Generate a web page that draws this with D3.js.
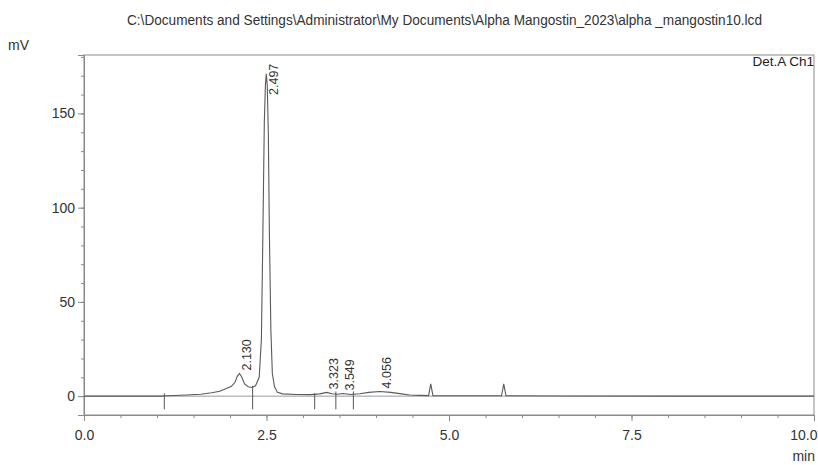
<!DOCTYPE html>
<html>
<head>
<meta charset="utf-8">
<script src="https://cdn.jsdelivr.net/npm/d3@7"></script>
<style>
  body { margin: 0; background: #fff; }
  text { font-family: "Liberation Sans", Arial, sans-serif; fill: #333; }
</style>
</head>
<body>
<div class="chart"></div>
<script>
const w = 818;
const h = 465;

const title = "C:\\Documents and Settings\\Administrator\\My Documents\\Alpha Mangostin_2023\\alpha _mangostin10.lcd";

// trace: time (min) and signal (mV)
const times = [0, 1.05, 1.15, 1.4, 1.6, 1.75, 1.86, 1.95, 2.02, 2.07, 2.1, 2.13, 2.16, 2.2, 2.25, 2.3, 2.35, 2.4, 2.43, 2.45, 2.47, 2.485, 2.497, 2.51, 2.525, 2.54, 2.56, 2.58, 2.61, 2.65, 2.72, 2.9, 3.1, 3.23, 3.323, 3.4, 3.47, 3.549, 3.65, 3.78, 3.9, 4.056, 4.2, 4.35, 4.46, 4.6, 4.72, 4.75, 4.78, 5.2, 5.72, 5.75, 5.78, 6.5, 8, 10];
const signal = [0, 0, 0.2, 0.6, 1.0, 1.8, 2.6, 4.0, 5.2, 7.5, 10.5, 12, 10.2, 6.5, 5.0, 4.6, 5.5, 10, 30, 85, 145, 165, 171, 165, 140, 85, 35, 12, 5, 2, 1.2, 0.9, 0.8, 1.2, 2.0, 1.3, 1.0, 1.4, 0.9, 1.3, 2.0, 2.5, 2.0, 1.2, 0.6, 0.4, 0.3, 6.5, 0.3, 0.2, 0.2, 6.5, 0.2, 0.1, 0, 0];

// labelled peaks
const peakTimes = [2.130, 2.497, 3.323, 3.549, 4.056];
const peakHeights = [12, 171, 2.0, 1.4, 2.5];

// integration start/end marks: time, top (mV)
const markTimes = [1.10, 2.31, 3.16, 3.45, 3.69];
const markTops = [1.5, 5.5, 1.5, 2.5, 2.5];

const xTicks = [0, 2.5, 5, 7.5, 10];
const yTicks = [0, 50, 100, 150];

const svg = d3.select(".chart")
.append("svg")
.attr("width", w)
.attr("height", h);

const x = d3.scaleLinear().domain([0, 10]).range([84, 814]);
const y = d3.scaleLinear().domain([-10, 181]).range([415, 55]);

// title
svg.append("text")
  .attr("x", 127)
  .attr("y", 25)
  .attr("font-size", 14)
  .attr("textLength", 635)
  .attr("lengthAdjust", "spacingAndGlyphs")
  .text(title);

svg.append("text").attr("x", 8).attr("y", 50).attr("font-size", 14).text("mV");
svg.append("text").attr("x", 815).attr("y", 461).attr("font-size", 14)
  .attr("text-anchor", "end").text("min");

// frame
svg.append("rect")
  .attr("x", x(0)).attr("y", y(181))
  .attr("width", x(10) - x(0)).attr("height", y(-10) - y(181))
  .attr("fill", "none").attr("stroke", "#8a8a8a");

svg.append("text")
  .attr("x", 814).attr("y", 66).attr("font-size", 13.5)
  .attr("text-anchor", "end").style("fill", "#222").text("Det.A Ch1");

// axes
const xAxis = svg.append("g")
  .attr("transform", `translate(0,${y(-10)})`)
  .call(d3.axisBottom(x).tickValues(xTicks).tickFormat(d3.format(".1f")).tickSize(6).tickPadding(9));
const xMinor = svg.append("g")
  .attr("transform", `translate(0,${y(-10)})`)
  .call(d3.axisBottom(x).tickValues(d3.range(0, 10.01, 0.5)).tickFormat("").tickSize(3));

const yAxis = svg.append("g")
  .attr("transform", `translate(${x(0)},0)`)
  .call(d3.axisLeft(y).tickValues(yTicks).tickSize(6).tickPadding(3));
const yMinor = svg.append("g")
  .attr("transform", `translate(${x(0)},0)`)
  .call(d3.axisLeft(y).tickValues(d3.range(-10, 181, 10)).tickFormat("").tickSize(3));

[xAxis, xMinor, yAxis, yMinor].forEach(g => {
  g.select(".domain").attr("stroke", "#8a8a8a");
  g.selectAll("line").attr("stroke", "#8a8a8a");
  g.selectAll("text").attr("font-size", 14).attr("fill", "#333")
    .attr("font-family", "Liberation Sans, Arial, sans-serif");
});
// last x label sits flush with the right edge
xAxis.selectAll(".tick text").filter(d => d === 10)
  .attr("text-anchor", "end").attr("dx", 3);

// zero line
svg.append("line")
  .attr("x1", x(0)).attr("x2", x(10))
  .attr("y1", y(0)).attr("y2", y(0))
  .attr("stroke", "#9a9a9a");

// trace
const pts = times.map((t, i) => [t, signal[i]]);
const line = d3.line().x(d => x(d[0])).y(d => y(d[1]));
svg.append("path")
  .datum(pts)
  .attr("d", line)
  .attr("fill", "none")
  .attr("stroke", "#5a5a5a")
  .attr("stroke-width", 1.1);

// marks
svg.selectAll(".mark")
  .data(markTimes)
  .enter().append("line")
  .attr("class", "mark")
  .attr("x1", d => x(d)).attr("x2", d => x(d))
  .attr("y1", (d, i) => y(markTops[i]))
  .attr("y2", y(-7))
  .attr("stroke", "#555");

// peak labels
svg.selectAll(".plabel")
  .data(peakTimes)
  .enter().append("text")
  .attr("class", "plabel")
  .attr("font-size", 12.5)
  .attr("dominant-baseline", "middle")
  .attr("transform", (d, i) => {
    const len = 37;
    const bottom = Math.max(y(peakHeights[i]) - 3, y(181) + 3 + len);
    return `translate(${x(d) + 8},${bottom}) rotate(-90)`;
  })
  .text(d => d3.format(".3f")(d));
</script>
</body>
</html>
